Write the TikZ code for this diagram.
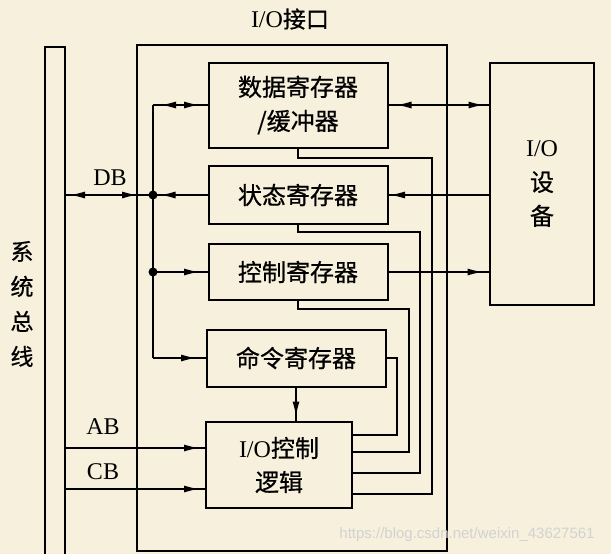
\documentclass[tikz,border=0pt]{standalone}
\usepackage{fontspec}
\setmainfont{Liberation Serif}
\newfontfamily\cjk[FakeBold=0.6]{Noto Sans CJK SC}
\newfontfamily\wmfont{Liberation Sans}
\usetikzlibrary{arrows.meta, decorations.markings}

\definecolor{paper}{RGB}{246,240,220}

\tikzset{
  >={Latex[length=16pt,width=7pt]},
  reg/.style={draw, line width=2pt, minimum width=179pt, inner sep=0pt,
    align=center, font=\cjk\fontsize{24}{34}\selectfont},
  fwd/.style={postaction={decorate, decoration={markings,
    mark=at position #1 with {\arrow{>}}}}},
  bwd/.style={postaction={decorate, decoration={markings,
    mark=at position #1 with {\arrowreversed{>}}}}},
}

\begin{document}
\begin{tikzpicture}[x=1pt, y=-1pt, line width=2pt, font=\fontsize{24}{28}\selectfont]
        \fill[paper] (0,0) rectangle (611,554);
        \useasboundingbox (0,0) rectangle (611,554);

        % system bus and interface frame
        \draw (45,554) -- (45,47) -- (65,47) -- (65,554);
        \draw (137,45) rectangle (447,551);
        \node[font=\cjk\fontsize{23}{35}\selectfont, align=center] (bus) at (22,304) {系\\统\\总\\线};
        \node (title) at (290,19) {I/O{\cjk\fontsize{23}{28}\selectfont 接口}};

        \node[reg, minimum height=85pt] (data) at (298,105) {数据寄存器\\/缓冲器};
        \node[reg, minimum height=58pt] (stat) at (298,195) {状态寄存器};
        \node[reg, minimum height=56pt] (ctrl) at (298,272) {控制寄存器};
        \node[reg, minimum height=57pt] (cmd) at (296,358) {命令寄存器};
        \node[reg, minimum width=146pt, minimum height=86pt] (logic) at (279,465) {{\rmfamily I/O}控制\\逻辑};
        \node[reg, minimum width=104pt, minimum height=242pt] (io) at (542,184) {{\rmfamily I/O}\\设\\备};

        \coordinate (jd) at (153,105);
        \coordinate (js) at (153,195);
        \coordinate (jc) at (153,272);
        \coordinate (jm) at (153,358);
        \coordinate (db) at (65,195);
        \coordinate (ab) at (65,448);
        \coordinate (cb) at (65,489);

        \node (dblabel) at (110,178) {DB};
        \node (ablabel) at (103,427) {AB};
        \node (cblabel) at (103,472) {CB};

        % bus side
        \draw (jd) -- (jm);
        \draw[bwd=7pt, fwd=47pt] (jd) -- (data.west);
        \draw[bwd=4pt, fwd=73pt] (db) -- (js);
        \draw[fwd=48pt] (stat.west) -- (js);
        \draw[fwd=47pt] (jc) -- (ctrl.west);
        \draw[fwd=44pt] (jm) -- (cmd.west);
        \fill (js) circle (4.5pt);
        \fill (jc) circle (4.5pt);
        \draw[fwd=135pt] (ab) -- (logic.west |- ab);
        \draw[fwd=135pt] (cb) -- (logic.west |- cb);
        \draw[fwd=30pt] (cmd.south) -- (cmd.south |- logic.north);

        % device side
        \draw[bwd=7pt, fwd=96pt] (data.east) -- (io.west |- data.east);
        \draw[fwd=100pt] (io.west |- stat.east) -- (stat.east);
        \draw[fwd=95pt] (ctrl.east) -- (io.west |- ctrl.east);

        % back to the control logic
        \draw (data.south) -- ++(0,9) -| (432,494) -- (logic.east |- 0,494);
        \draw (stat.south) -- ++(0,7) -| (420,473) -- (logic.east |- 0,473);
        \draw (ctrl.south) -- ++(0,8) -| (409,452) -- (logic.east |- 0,452);
        \draw (cmd.east) -| (397,435) -- (logic.east |- 0,435);

        \node[text=gray!35, font=\wmfont\fontsize{15}{15}\selectfont] (wm) at (467,535) {https://blog.csdn.net/weixin\_43627561};
    \end{tikzpicture}
\end{document}
